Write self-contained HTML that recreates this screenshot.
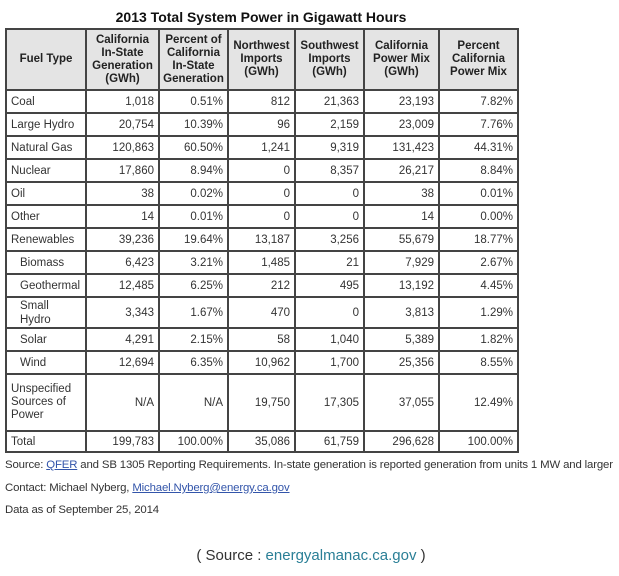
<!DOCTYPE html>
<html><head><meta charset="utf-8"><style>
body{margin:0;width:619px;height:576px;background:#fff;font-family:"Liberation Sans",Arial,sans-serif;color:#222;position:relative;overflow:hidden}
#title{position:absolute;left:5px;width:512px;top:9px;text-align:center;font-weight:bold;font-size:14px;color:#111}
table{position:absolute;left:5px;top:28px;width:512px;border-collapse:collapse;font-size:11.5px;table-layout:fixed}
td,th{border:2px solid #444;padding:0 4px;overflow:hidden;white-space:nowrap}
th{background:#e4e4e4;font-weight:bold;font-size:11.5px;line-height:13px;text-align:center;color:#222;white-space:normal;padding:0 2px}
td{text-align:right;color:#333}
td.l{text-align:left}
td.i{text-align:left;padding-left:13px}
tr{height:23px}
.foot{position:absolute;left:5px;font-size:11.4px;color:#333;white-space:nowrap;letter-spacing:-0.15px}
a{color:#3355aa;text-decoration:underline}
#src{position:absolute;top:547px;left:0;width:622px;text-align:center;font-size:15px;color:#333}
#src span{color:#2a7f96}
</style></head><body>
<div id="title">2013 Total System Power in Gigawatt Hours</div>
<table>
<colgroup><col style="width:80px"><col style="width:73px"><col style="width:69px"><col style="width:67px"><col style="width:69px"><col style="width:75px"><col style="width:79px"></colgroup>
<tr style="height:61px"><th>Fuel Type</th><th>California In-State Generation (GWh)</th><th>Percent of California In-State Generation</th><th>Northwest Imports (GWh)</th><th>Southwest Imports (GWh)</th><th>California Power Mix (GWh)</th><th>Percent California Power Mix</th></tr>
<tr><td class="l">Coal</td><td>1,018</td><td>0.51%</td><td>812</td><td>21,363</td><td>23,193</td><td>7.82%</td></tr>
<tr><td class="l">Large Hydro</td><td>20,754</td><td>10.39%</td><td>96</td><td>2,159</td><td>23,009</td><td>7.76%</td></tr>
<tr><td class="l">Natural Gas</td><td>120,863</td><td>60.50%</td><td>1,241</td><td>9,319</td><td>131,423</td><td>44.31%</td></tr>
<tr><td class="l">Nuclear</td><td>17,860</td><td>8.94%</td><td>0</td><td>8,357</td><td>26,217</td><td>8.84%</td></tr>
<tr><td class="l">Oil</td><td>38</td><td>0.02%</td><td>0</td><td>0</td><td>38</td><td>0.01%</td></tr>
<tr><td class="l">Other</td><td>14</td><td>0.01%</td><td>0</td><td>0</td><td>14</td><td>0.00%</td></tr>
<tr><td class="l">Renewables</td><td>39,236</td><td>19.64%</td><td>13,187</td><td>3,256</td><td>55,679</td><td>18.77%</td></tr>
<tr><td class="i">Biomass</td><td>6,423</td><td>3.21%</td><td>1,485</td><td>21</td><td>7,929</td><td>2.67%</td></tr>
<tr><td class="i">Geothermal</td><td>12,485</td><td>6.25%</td><td>212</td><td>495</td><td>13,192</td><td>4.45%</td></tr>
<tr style="height:31px"><td class="i" style="line-height:14px;white-space:normal">Small Hydro</td><td>3,343</td><td>1.67%</td><td>470</td><td>0</td><td>3,813</td><td>1.29%</td></tr>
<tr><td class="i">Solar</td><td>4,291</td><td>2.15%</td><td>58</td><td>1,040</td><td>5,389</td><td>1.82%</td></tr>
<tr><td class="i">Wind</td><td>12,694</td><td>6.35%</td><td>10,962</td><td>1,700</td><td>25,356</td><td>8.55%</td></tr>
<tr style="height:57px"><td class="l" style="line-height:13px;white-space:normal">Unspecified Sources of Power</td><td>N/A</td><td>N/A</td><td>19,750</td><td>17,305</td><td>37,055</td><td>12.49%</td></tr>
<tr style="height:21px"><td class="l">Total</td><td>199,783</td><td>100.00%</td><td>35,086</td><td>61,759</td><td>296,628</td><td>100.00%</td></tr>
</table>
<div class="foot" style="top:459px">Source: <a>QFER</a> and SB 1305 Reporting Requirements. In-state generation is reported generation from units 1 MW and larger</div>
<div class="foot" style="top:482px">Contact: Michael Nyberg, <a>Michael.Nyberg@energy.ca.gov</a></div>
<div class="foot" style="top:504px">Data as of September 25, 2014</div>
<div id="src">( Source : <span>energyalmanac.ca.gov</span> )</div>
</body></html>
